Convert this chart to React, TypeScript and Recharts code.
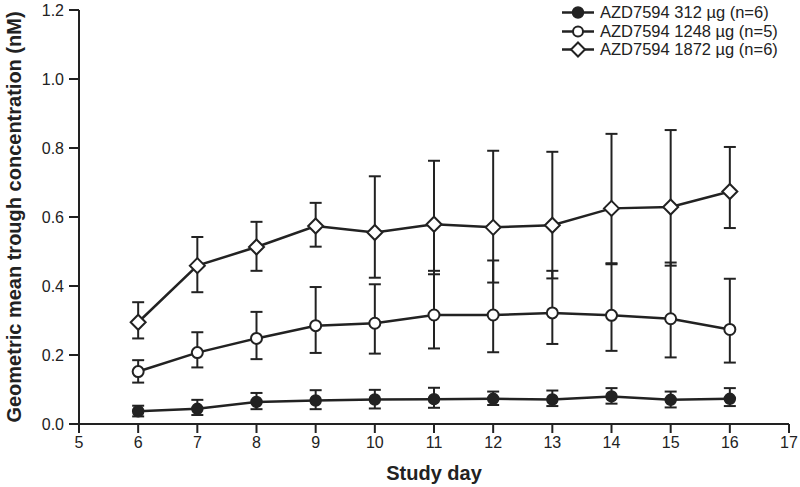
import React from 'react';
import { LineChart, Line, XAxis, YAxis, ErrorBar, Legend } from 'recharts';

const days = [6, 7, 8, 9, 10, 11, 12, 13, 14, 15, 16];

const dose312Mean = [0.037, 0.044, 0.064, 0.068, 0.071, 0.072, 0.073, 0.071, 0.080, 0.070, 0.073];
const dose312Low = [0.022, 0.026, 0.043, 0.043, 0.045, 0.047, 0.055, 0.052, 0.059, 0.048, 0.052];
const dose312High = [0.053, 0.070, 0.090, 0.098, 0.099, 0.105, 0.094, 0.097, 0.104, 0.094, 0.104];

const dose1248Mean = [0.152, 0.207, 0.248, 0.285, 0.292, 0.316, 0.316, 0.322, 0.315, 0.305, 0.274];
const dose1248Low = [0.120, 0.164, 0.188, 0.206, 0.204, 0.219, 0.208, 0.232, 0.212, 0.193, 0.178];
const dose1248High = [0.185, 0.266, 0.325, 0.397, 0.405, 0.444, 0.474, 0.444, 0.463, 0.468, 0.421];

const dose1872Mean = [0.295, 0.459, 0.513, 0.574, 0.555, 0.579, 0.570, 0.576, 0.625, 0.629, 0.674];
const dose1872Low = [0.248, 0.382, 0.444, 0.514, 0.424, 0.434, 0.410, 0.422, 0.466, 0.459, 0.568];
const dose1872High = [0.353, 0.542, 0.586, 0.641, 0.718, 0.763, 0.792, 0.789, 0.841, 0.852, 0.803];

const xTicks = [5, 6, 7, 8, 9, 10, 11, 12, 13, 14, 15, 16, 17];
const yTicks = [0, 0.2, 0.4, 0.6, 0.8, 1.0, 1.2];

const seriesNames = ['AZD7594 312 µg (n=6)', 'AZD7594 1248 µg (n=5)', 'AZD7594 1872 µg (n=6)'];

const data = days.map((d, i) => ({
  day: d,
  m312: dose312Mean[i],
  e312: [dose312Mean[i] - dose312Low[i], dose312High[i] - dose312Mean[i]],
  m1248: dose1248Mean[i],
  e1248: [dose1248Mean[i] - dose1248Low[i], dose1248High[i] - dose1248Mean[i]],
  m1872: dose1872Mean[i],
  e1872: [dose1872Mean[i] - dose1872Low[i], dose1872High[i] - dose1872Mean[i]],
}));

const INK = '#222';
const FONT = '"Liberation Sans", Arial, sans-serif';

const FilledDot = (p: any) =>
  p.cx == null ? null : (
    <circle key={`f${p.index}`} cx={p.cx} cy={p.cy} r={5.5} fill={INK} stroke={INK} strokeWidth={1.5} />
  );
const OpenDot = (p: any) =>
  p.cx == null ? null : (
    <circle key={`o${p.index}`} cx={p.cx} cy={p.cy} r={5.5} fill="#fff" stroke={INK} strokeWidth={2} />
  );
const DiamondDot = (p: any) =>
  p.cx == null ? null : (
    <path
      key={`d${p.index}`}
      d={`M${p.cx},${p.cy - 7.5}L${p.cx + 7.5},${p.cy}L${p.cx},${p.cy + 7.5}L${p.cx - 7.5},${p.cy}Z`}
      fill="#fff"
      stroke={INK}
      strokeWidth={2}
    />
  );

const LegendContent = () => {
  const icons = [
    <circle cx={16} cy={9.5} r={5.5} fill={INK} stroke={INK} strokeWidth={1.5} />,
    <circle cx={16} cy={9.5} r={5} fill="#fff" stroke={INK} strokeWidth={2} />,
    <path d="M16,2.5L23,9.5L16,16.5L9,9.5Z" fill="#fff" stroke={INK} strokeWidth={2} />,
  ];
  return (
    <div style={{ fontFamily: FONT, fontSize: 16.5, color: INK }}>
      {seriesNames.map((n, i) => (
        <div key={n} style={{ display: 'flex', alignItems: 'center', height: 18.7 }}>
          <svg width={34} height={19} style={{ display: 'block' }}>
            <line x1={0} y1={9.5} x2={32} y2={9.5} stroke={INK} strokeWidth={2.5} />
            {icons[i]}
          </svg>
          <span style={{ marginLeft: 4, whiteSpace: 'nowrap', lineHeight: '19px' }}>{n}</span>
        </div>
      ))}
    </div>
  );
};

export default function App() {
  return (
    <div style={{ position: 'absolute', left: 0, top: 0, background: '#fff' }}>
      <LineChart
        width={800}
        height={487}
        data={data}
        margin={{ top: 10, right: 11, bottom: 0, left: 0 }}
        style={{ fontFamily: FONT }}
      >
        <XAxis
          dataKey="day"
          type="number"
          domain={[5, 17]}
          ticks={xTicks}
          interval={0}
          height={63}
          axisLine={{ stroke: INK, strokeWidth: 2 }}
          tickLine={{ stroke: INK, strokeWidth: 2 }}
          tickSize={9}
          tickMargin={4}
          tick={{ fill: INK, fontSize: 16 }}
          label={{ value: 'Study day', position: 'insideBottom', offset: 7, fill: INK, fontSize: 20, fontWeight: 'bold' }}
        />
        <YAxis
          type="number"
          domain={[0, 1.2]}
          ticks={yTicks}
          interval={0}
          width={79}
          axisLine={{ stroke: INK, strokeWidth: 2 }}
          tickLine={{ stroke: INK, strokeWidth: 2 }}
          tickSize={10}
          tickMargin={5}
          tick={{ fill: INK, fontSize: 16 }}
          tickFormatter={(v: number) => v.toFixed(1)}
          label={{
            value: 'Geometric mean trough concentration (nM)',
            angle: -90,
            position: 'insideLeft',
            offset: 14,
            fill: INK,
            fontSize: 20,
            fontWeight: 'bold',
            style: { textAnchor: 'middle' },
          }}
        />
        <Legend
          layout="horizontal"
          align="center"
          verticalAlign="middle"
          content={<LegendContent />}
          wrapperStyle={{ position: 'absolute', left: 562, top: 3, width: 238, height: 60 }}
        />
        <Line
          dataKey="m1872"
          type="linear"
          stroke={INK}
          strokeWidth={2.5}
          dot={DiamondDot}
          activeDot={false}
          isAnimationActive={false}
        >
          <ErrorBar dataKey="e1872" direction="y" width={6} stroke={INK} strokeWidth={2} />
        </Line>
        <Line
          dataKey="m1248"
          type="linear"
          stroke={INK}
          strokeWidth={2.5}
          dot={OpenDot}
          activeDot={false}
          isAnimationActive={false}
        >
          <ErrorBar dataKey="e1248" direction="y" width={6} stroke={INK} strokeWidth={2} />
        </Line>
        <Line
          dataKey="m312"
          type="linear"
          stroke={INK}
          strokeWidth={2.5}
          dot={FilledDot}
          activeDot={false}
          isAnimationActive={false}
        >
          <ErrorBar dataKey="e312" direction="y" width={6} stroke={INK} strokeWidth={2} />
        </Line>
      </LineChart>
    </div>
  );
}
